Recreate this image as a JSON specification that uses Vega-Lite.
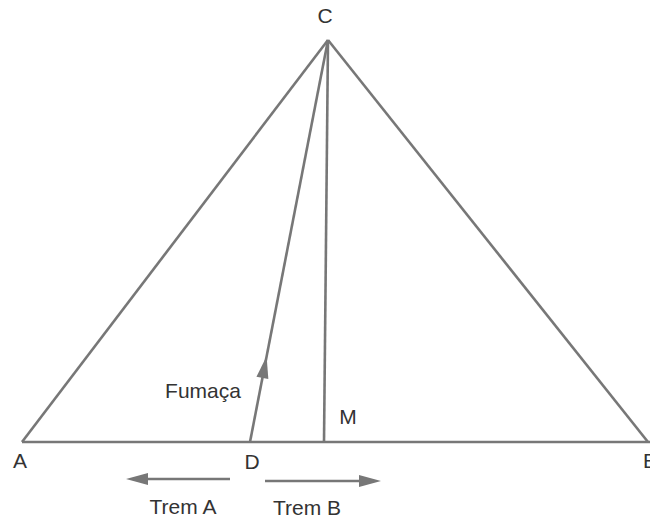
{
  "$schema": "https://vega.github.io/schema/vega-lite/v6.json",
  "width": 650,
  "height": 518,
  "padding": 0,
  "autosize": {"type": "none"},
  "background": "white",
  "config": {"view": {"stroke": null}},
  "datasets": {
    "segments": [
      {"name": "AC", "x": 22, "y": 442, "x2": 328, "y2": 40},
      {"name": "BC", "x": 648, "y": 442, "x2": 328, "y2": 40},
      {"name": "AB", "x": 22, "y": 442, "x2": 650, "y2": 442},
      {"name": "CM", "x": 328, "y": 40, "x2": 324, "y2": 442},
      {"name": "DC", "x": 250, "y": 442, "x2": 328, "y2": 40},
      {"name": "TremA", "x": 230, "y": 479, "x2": 136, "y2": 479},
      {"name": "TremB", "x": 265, "y": 481, "x2": 370, "y2": 481}
    ],
    "heads": [
      {"name": "Fumaça", "x": 264.5, "y": 367, "ang": 11},
      {"name": "TremA", "x": 137, "y": 479, "ang": 270},
      {"name": "TremB", "x": 370, "y": 481, "ang": 90}
    ],
    "labels": [
      {"label": "C", "x": 325, "y": 17, "al": "center"},
      {"label": "A", "x": 20, "y": 462, "al": "center"},
      {"label": "B", "x": 643, "y": 462, "al": "left"},
      {"label": "D", "x": 252, "y": 463, "al": "center"},
      {"label": "M", "x": 348, "y": 418, "al": "center"},
      {"label": "Fumaça", "x": 203, "y": 392, "al": "center"},
      {"label": "Trem A", "x": 183, "y": 508, "al": "center"},
      {"label": "Trem B", "x": 307, "y": 509, "al": "center"}
    ]
  },
  "layer": [
    {
      "data": {"name": "segments"},
      "mark": {"type": "rule", "color": "#777777", "strokeWidth": 2.6, "strokeCap": "butt"},
      "encoding": {
        "x": {"field": "x", "type": "quantitative", "scale": {"domain": [0, 650], "nice": false, "zero": false}, "axis": null},
        "y": {"field": "y", "type": "quantitative", "scale": {"domain": [0, 518], "nice": false, "zero": false, "reverse": true}, "axis": null},
        "x2": {"field": "x2"},
        "y2": {"field": "y2"}
      }
    },
    {
      "data": {"name": "heads"},
      "mark": {"type": "point", "shape": "M0,-1L0.55,1L-0.55,1Z", "filled": true, "color": "#777777", "opacity": 1, "size": 484},
      "encoding": {
        "x": {"field": "x", "type": "quantitative", "scale": {"domain": [0, 650], "nice": false, "zero": false}, "axis": null},
        "y": {"field": "y", "type": "quantitative", "scale": {"domain": [0, 518], "nice": false, "zero": false, "reverse": true}, "axis": null},
        "angle": {"field": "ang", "type": "quantitative", "scale": null}
      }
    },
    {
      "data": {"name": "labels"},
      "transform": [{"filter": "datum.al == 'center'"}],
      "mark": {"type": "text", "font": "Liberation Sans", "fontSize": 21, "color": "#333333", "align": "center", "baseline": "middle"},
      "encoding": {
        "x": {"field": "x", "type": "quantitative", "scale": {"domain": [0, 650], "nice": false, "zero": false}, "axis": null},
        "y": {"field": "y", "type": "quantitative", "scale": {"domain": [0, 518], "nice": false, "zero": false, "reverse": true}, "axis": null},
        "text": {"field": "label"}
      }
    },
    {
      "data": {"name": "labels"},
      "transform": [{"filter": "datum.al == 'left'"}],
      "mark": {"type": "text", "font": "Liberation Sans", "fontSize": 21, "color": "#333333", "align": "left", "baseline": "middle"},
      "encoding": {
        "x": {"field": "x", "type": "quantitative", "scale": {"domain": [0, 650], "nice": false, "zero": false}, "axis": null},
        "y": {"field": "y", "type": "quantitative", "scale": {"domain": [0, 518], "nice": false, "zero": false, "reverse": true}, "axis": null},
        "text": {"field": "label"}
      }
    }
  ]
}
